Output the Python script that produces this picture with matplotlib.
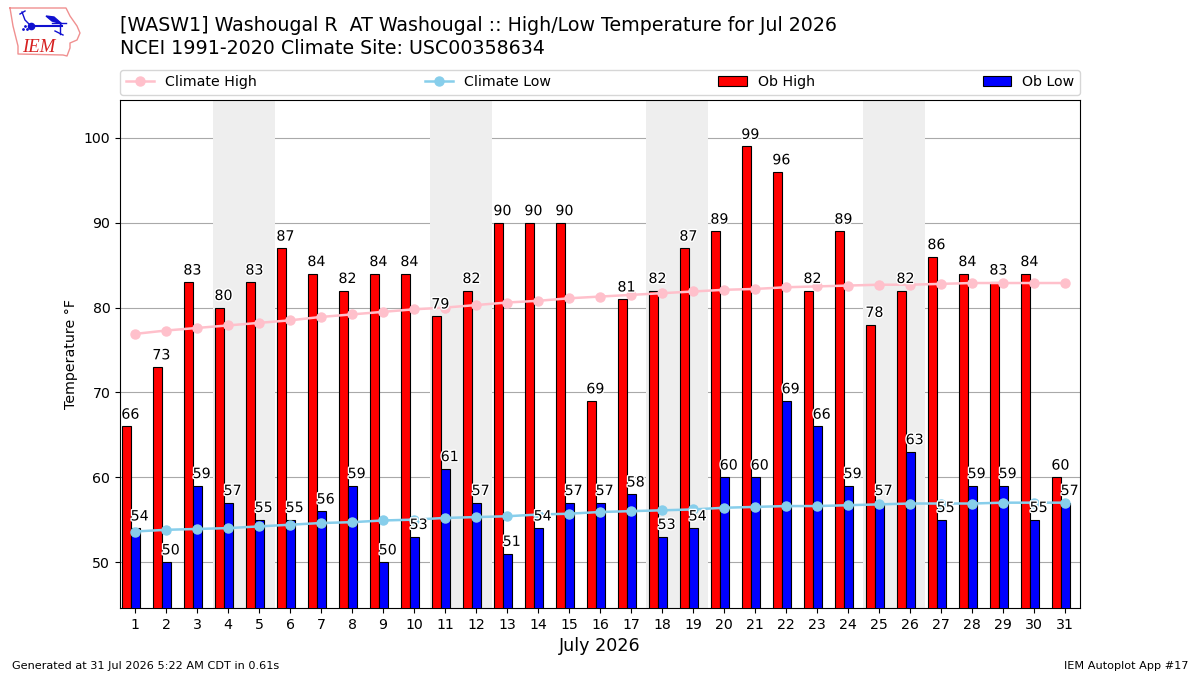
import matplotlib
matplotlib.use('Agg')
import matplotlib.pyplot as plt
import matplotlib.patheffects as pe
import numpy as np

days = list(range(1, 32))
ob_high = [66, 73, 83, 80, 83, 87, 84, 82, 84, 84, 79, 82, 90, 90, 90, 69,
           81, 82, 87, 89, 99, 96, 82, 89, 78, 82, 86, 84, 83, 84, 60]
ob_low = [54, 50, 59, 57, 55, 55, 56, 59, 50, 53, 61, 57, 51, 54, 57, 57,
          58, 53, 54, 60, 60, 69, 66, 59, 57, 63, 55, 59, 59, 55, 57]
climate_high = [76.9, 77.3, 77.6, 77.9, 78.2, 78.5, 78.9, 79.2, 79.5, 79.8, 80.0,
                80.3, 80.6, 80.8, 81.1, 81.3, 81.5, 81.7, 81.9, 82.1, 82.2, 82.4,
                82.5, 82.6, 82.7, 82.7, 82.8, 82.9, 82.9, 82.9, 82.9]
climate_low = [53.6, 53.8, 53.9, 54.0, 54.2, 54.4, 54.6, 54.7, 54.9, 55.0, 55.2,
               55.3, 55.4, 55.6, 55.7, 55.9, 56.0, 56.1, 56.2, 56.4, 56.5, 56.6,
               56.6, 56.7, 56.8, 56.9, 56.9, 56.9, 57.0, 57.0, 57.0]
weekends = [(3.5, 5.5), (10.5, 12.5), (17.5, 19.5), (24.5, 26.5)]

x = np.array(days)

fig = plt.figure(figsize=(12, 6.75), dpi=100)
ax = fig.add_axes([120 / 1200, 1 - 608 / 675, 960 / 1200, 508 / 675])

# Weekend shading sits behind everything
for start, end in weekends:
    ax.axvspan(start, end, color='#eeeeee', lw=0, zorder=1)

ax.grid(True, axis='y', color='#a9a9a9', lw=0.8, zorder=2)
ax.set_axisbelow(True)

ax.bar(x - 0.43, ob_high, width=0.3, align='edge', color='red', edgecolor='black',
       lw=0.8, label='Ob High', zorder=3)
ax.bar(x - 0.13, ob_low, width=0.3, align='edge', color='blue', edgecolor='black',
       lw=0.8, label='Ob Low', zorder=3)
ax.plot(x, climate_high, color='pink', marker='o', ms=6.5, lw=1.8, label='Climate High', zorder=4)
ax.plot(x, climate_low, color='skyblue', marker='o', ms=6.5, lw=1.8, label='Climate Low', zorder=4)

# Value labels above each bar, white outline keeps them readable over the lines
outline = [pe.withStroke(linewidth=2, foreground='white')]
for d, hi, lo in zip(days, ob_high, ob_low):
    ax.text(d - 0.15, hi + 0.55, str(hi), ha='center', va='bottom', fontsize=10.2,
            path_effects=outline, zorder=5)
    ax.text(d + 0.15, lo + 0.55, str(lo), ha='center', va='bottom', fontsize=10.2,
            path_effects=outline, zorder=5)

ax.set_xlim(0.516, 31.484)
ax.set_ylim(44.58, 104.48)
ax.set_xticks(days)
ax.set_yticks([50, 60, 70, 80, 90, 100])
ax.tick_params(labelsize=10.2)
ax.set_ylabel('Temperature °F', fontsize=10.2)
ax.set_xlabel('July 2026', fontsize=12.6)

# Legend in the order of the lines first, stretched over the axes width
handles, labels = ax.get_legend_handles_labels()
order = [labels.index(n) for n in ['Climate High', 'Climate Low', 'Ob High', 'Ob Low']]
ax.legend([handles[i] for i in order], [labels[i] for i in order], ncol=4, mode='expand',
          loc='lower left', bbox_to_anchor=(0, 1 + 5 / 508, 1, 26 / 508), borderaxespad=0,
          fontsize=10.2)

fig.text(120 / 1200, 1 - 31 / 675, '[WASW1] Washougal R  AT Washougal :: High/Low Temperature for Jul 2026',
         fontsize=13.7, ha='left', va='baseline')
fig.text(120 / 1200, 1 - 54 / 675, 'NCEI 1991-2020 Climate Site: USC00358634',
         fontsize=13.7, ha='left', va='baseline')
fig.text(12 / 1200, 1 - 669 / 675, 'Generated at 31 Jul 2026 5:22 AM CDT in 0.61s',
         fontsize=8.15, ha='left', va='baseline')
fig.text(1188 / 1200, 1 - 669 / 675, 'IEM Autoplot App #17',
         fontsize=8.15, ha='right', va='baseline')

# Small IEM logo, drawn in pixel coordinates
logo = fig.add_axes([0, 0, 1, 1], zorder=-1)
logo.set_xlim(0, 1200)
logo.set_ylim(675, 0)
logo.axis('off')
logo.plot([10, 66, 70, 77, 80, 77, 70, 70, 67, 63, 18, 18, 13, 10],
          [8, 8, 16, 26, 33, 40, 43, 48, 56, 55, 54, 46, 26, 8], color='#f09090', lw=1)
logo.plot([31, 62], [26, 26], color='#1010d0', lw=1.5)
logo.plot([31], [26], 'o', color='#1010d0', ms=4.5)
logo.plot([22, 25, 31], [12, 20, 26], color='#1010d0', lw=1)
logo.plot([20, 25], [14, 11], color='#1010d0', lw=1)
logo.fill([46, 54, 62, 52], [16, 17, 24, 21], color='#1010d0')
logo.plot([52, 66], [23, 23], color='#1010d0', lw=1)
logo.plot([60, 60], [23, 34], color='#1010d0', lw=1)
logo.plot([55, 63], [31, 35], color='#1010d0', lw=1)
logo.plot([23, 25, 27], [29, 26, 29], '.', color='#1010d0', ms=2)
logo.text(22, 52, 'IEM', color='#d62020', fontsize=13.5, family='Liberation Serif',
          style='italic', ha='left', va='baseline')

fig.savefig('out.png', dpi=100)
